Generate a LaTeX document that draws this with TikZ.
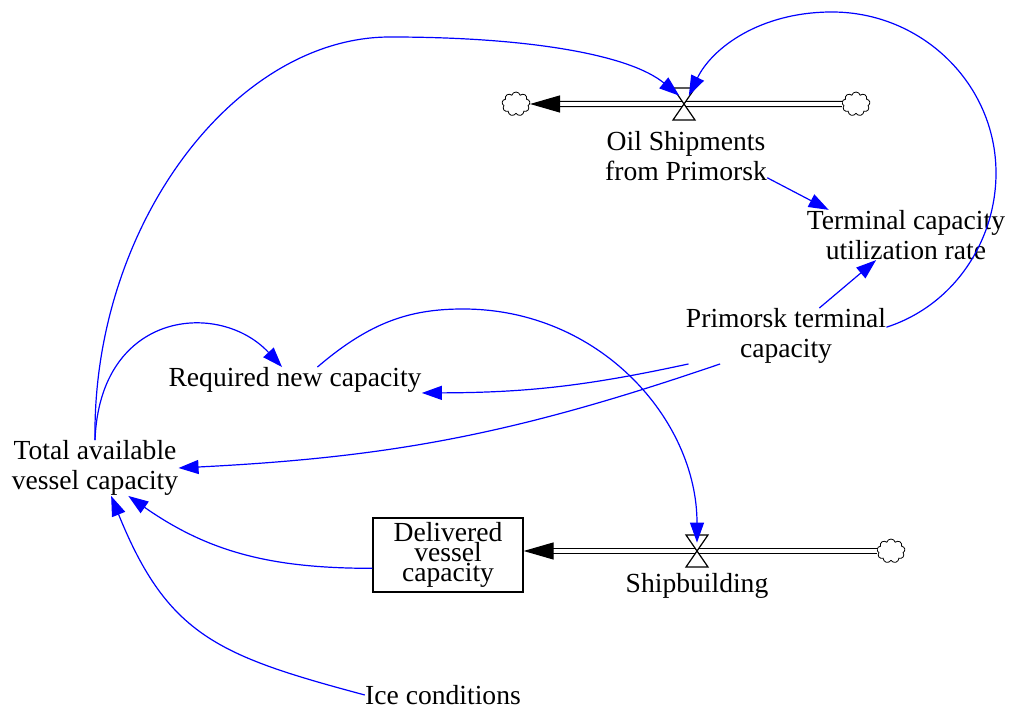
\documentclass[tikz,border=0pt]{standalone}
\usepackage{fontspec}
\setmainfont{Liberation Serif}
\usepackage{tikz}
\usetikzlibrary{arrows.meta}
\usetikzlibrary{shapes.symbols}
\definecolor{lblue}  {RGB}{0,0,255}
\tikzset{
    varname/.style={font=\fontsize{13.8}{15}\selectfont, align=center, inner sep=0pt},
    stock/.style={draw, line width=0.6pt, minimum width=75pt, minimum height=37pt,
              inner sep=0pt, align=center, font=\fontsize{13.8}{10.2}\selectfont},
    link/.style={draw=lblue, line width=0.6pt, -{Triangle[length=10pt,width=7pt]}},
    pipe/.style={draw=black, line width=0.6pt, double=white, double distance=1.9pt,
              -{Triangle[length=15pt,width=8.5pt]}},
    source/.style={cloud, draw, cloud puffs=9, cloud ignores aspect, minimum width=14pt,
              minimum height=12pt, inner sep=0pt, fill=white, line width=0.4pt},
    valvehub/.style={minimum width=11pt, minimum height=8pt, inner sep=0pt},
    valve/.pic={\draw[line width=0.6pt, fill=white] (-11,-16) -- (11,-16) -- (-11,16) -- (11,16) -- cycle;}
  }

\begin{document}
\begin{tikzpicture}[x=0.5pt, y=-0.5pt]
 \useasboundingbox (0,0) rectangle (1012,710);
 %Variables
     \node[varname] (tav) at (95,468) {Total available\\vessel capacity};
     \node[varname] (rnc) at (295,380) {Required new capacity};
     \node[varname] (ptc) at (786,336) {Primorsk terminal\\capacity};
     \node[varname] (tcu) at (906,235) {Terminal capacity\\utilization rate};
     \node[varname] (osp) at (686,156) {Oil Shipments\\from Primorsk};
     \node[varname] (shb) at (697,586) {Shipbuilding};
     \node[varname] (ice) at (443,695) {Ice conditions};
 %Stock
     \node[stock] (dvc) at (448,555) {Delivered\\vessel\\capacity};
 %Clouds
     \node[source] (cl) at (516,104) {};
     \node[source] (cr) at (856,104) {};
     \node[source] (cb) at (891,551) {};
 %Valves
     \node[valvehub] (v1) at (684,104) {};
     \node[valvehub] (v2) at (697,551) {};
 %Flows
     \draw[pipe] (cr.west) -- (cl.east);
     \draw[pipe] (cb.west) -- (cb.west -| dvc.east);
     \pic at (v1) {valve};
     \pic at (v2) {valve};
 %Links
     \draw[link] (tav.north) .. controls (92,225) and (235,37) .. (390,37)
                 .. controls (530,37) and (630,55) .. (v1.120);
     \draw[link] (ptc.5) .. controls (955,305) and (996,240) .. (996,173)
                 .. controls (996,84) and (922,12) .. (832,12)
                 .. controls (760,12) and (712,48) .. (v1.60);
     \draw[link] (osp.-15) -- (tcu.162);
     \draw[link] (ptc.40) -- (tcu.-140);
     \draw[link] (tav.north) .. controls (100,310) and (220,300) .. (rnc.135);
     \draw[link] (rnc.30) .. controls (370,322) and (410,309) .. (463,309)
                 .. controls (600,309) and (697,420) .. (v2.north);
     \draw[link] (ptc.-164) to[bend left=6] (rnc.south east);
     \draw[link] (ptc.-157) to[bend left=8] (tav.east);
     \draw[link] (dvc.-170) to[out=180, in=-35] (tav.-40);
     \draw[link] (ice.west) to[out=165, in=-68, looseness=1.2] (tav.-60);
\end{tikzpicture}
\end{document}
